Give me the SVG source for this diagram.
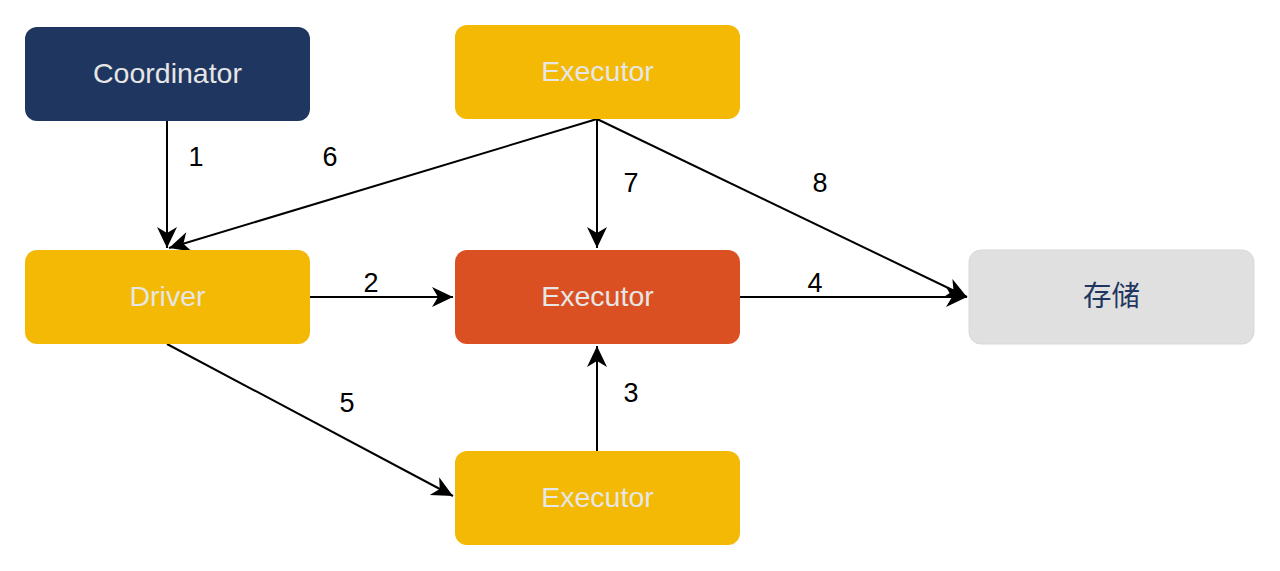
<svg xmlns="http://www.w3.org/2000/svg" width="1280" height="571" viewBox="0 0 1280 571">
<style>
.node{stroke:none}
.lbl{font-family:"Liberation Sans",Arial,sans-serif;font-size:28.5px;text-anchor:middle;dominant-baseline:central;fill:#e6e6e6}
.num{font-family:"Liberation Sans",Arial,sans-serif;font-size:27px;text-anchor:middle;dominant-baseline:central;fill:#000}
.edge{stroke:#000;stroke-width:2;fill:none;marker-end:url(#arr)}
</style>
<defs>
<marker id="arr" markerUnits="userSpaceOnUse" viewBox="-22 -12 24 24" refX="0" refY="0" markerWidth="24" markerHeight="24" orient="auto">
<path d="M0,0 L-21,-10 L-15,0 L-21,10 Z" fill="#000"/>
</marker>
</defs>
<rect width="1280" height="571" fill="#fff"/>
<g id="connectors">
<path class="edge" d="M167,121 L167,248"/>
<path class="edge" d="M597,119 L169,248"/>
<path class="edge" d="M597,119 L597,248"/>
<path class="edge" d="M597,119 L967,297"/>
<path class="edge" d="M310,297 L453,297"/>
<path class="edge" d="M740,297 L967,297"/>
<path class="edge" d="M167,344 L453,496"/>
<path class="edge" d="M597,451 L597,346"/>
<text class="num" x="196" y="157">1</text>
<text class="num" x="330" y="157">6</text>
<text class="num" x="631" y="183">7</text>
<text class="num" x="820" y="183">8</text>
<text class="num" x="371" y="283">2</text>
<text class="num" x="815" y="283">4</text>
<text class="num" x="347" y="403">5</text>
<text class="num" x="631" y="393">3</text>
</g>
<g id="coordinator">
<rect class="node" x="25" y="27" width="285" height="94" rx="12" fill="#1f3660"/>
<text class="lbl" x="167.5" y="73">Coordinator</text>
</g>
<g id="executor-top">
<rect class="node" x="455" y="25" width="285" height="94" rx="12" fill="#f3b905"/>
<text class="lbl" x="597.5" y="71">Executor</text>
</g>
<g id="driver">
<rect class="node" x="25" y="250" width="285" height="94" rx="12" fill="#f3b905"/>
<text class="lbl" x="167.5" y="296">Driver</text>
</g>
<g id="executor-mid">
<rect class="node" x="455" y="250" width="285" height="94" rx="12" fill="#da5022"/>
<text class="lbl" x="597.5" y="296">Executor</text>
</g>
<g id="storage">
<rect x="969" y="250" width="285" height="94" rx="12" fill="#e0e0e0" stroke="#d8d8d8" stroke-width="1"/>
<text class="lbl" x="1111.5" y="296" style="fill:#1f3660;font-family:'Liberation Sans','Noto Sans CJK SC',sans-serif">存储</text>
</g>
<g id="executor-bottom">
<rect class="node" x="455" y="451" width="285" height="94" rx="12" fill="#f3b905"/>
<text class="lbl" x="597.5" y="497">Executor</text>
</g>
</svg>
